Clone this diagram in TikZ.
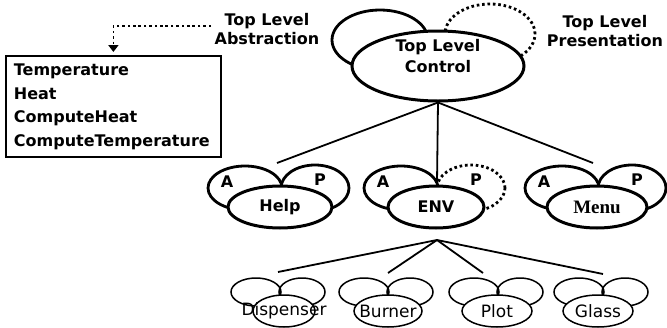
\documentclass[tikz,border=0pt]{standalone}
\usepackage{fontspec}
\setmainfont{DejaVu Sans}
\newfontfamily\menufont{Liberation Serif}
\usetikzlibrary{arrows.meta,shapes.geometric}

\begin{document}
\begin{tikzpicture}[x=1pt,y=-1pt,
  every node/.style={font=\fontsize{16}{19}\selectfont\bfseries},
  lobe/.style={ellipse,draw,line width=2.8pt,inner sep=0pt,minimum width=74pt,minimum height=44pt},
  plobe/.style={lobe,minimum width=68pt,minimum height=46pt,label={[xshift=5pt,yshift=8pt]center:P}},
  alobe/.style={lobe,label={[xshift=-18pt,yshift=6pt]center:A}},
  dots/.style={dash pattern=on 2.6pt off 2.8pt},
  agent/.style={ellipse,draw,fill=white,line width=3pt,inner sep=0pt,minimum width=100pt,minimum height=42pt},
  leaflobe/.style={ellipse,draw,line width=1.5pt,inner sep=0pt,minimum width=50pt,minimum height=28pt},
  leaf/.style={ellipse,draw,fill=white,line width=1.5pt,inner sep=0pt,minimum width=68pt,minimum height=32pt,
    font=\fontsize{17}{19}\selectfont}]
  \useasboundingbox (0,0) rectangle (667,327);

  \node[lobe,minimum width=96pt,minimum height=60pt] (abs) at (380,40) {};
  \node[lobe,dots,minimum width=90pt,minimum height=60pt] (pres) at (490,34) {};
  \node[agent,minimum width=172pt,minimum height=70pt,
    label={[align=center,yshift=10pt,font=\fontsize{16}{21}\selectfont\bfseries]center:Top Level\\Control}] (ctl) at (438,66) {};

  \node[align=center] (absLabel) at (267,29) {Top Level\\Abstraction};
  \node[align=center] (presLabel) at (605,31) {Top Level\\Presentation};
  \node[draw,line width=1.8pt,anchor=north west,align=left,text width=199pt,inner sep=8pt,
    font=\fontsize{16}{23.5}\selectfont\bfseries] (vars) at (5,55)
    {Temperature\\Heat\\ComputeHeat\\ComputeTemperature};
  \draw[line width=1.8pt,dots,-{Triangle[width=10pt,length=7pt]},shorten >=3pt]
    ([yshift=3pt]absLabel.west) -| (vars.north);

  \node[alobe] (helpA) at (245,188) {};
  \node[plobe] (helpP) at (315,188) {};
  \node[agent,minimum width=104pt] (help) at (280,207) {Help};

  \node[alobe] (envA) at (401,188) {};
  \node[plobe,dots] (envP) at (471,188) {};
  \node[agent,minimum width=96pt] (env) at (436,207) {ENV};

  \node[alobe] (menuA) at (562,188) {};
  \node[plobe] (menuP) at (632,188) {};
  \node[agent] (menu) at (597,207) {\menufont\bfseries\fontsize{19}{21}\selectfont Menu};

  \coordinate (helpTop) at (277,163);
  \coordinate (envTop) at (437,183);
  \coordinate (menuTop) at (593,163);
  \path[line width=1.8pt] (ctl.south) edge (helpTop)
                                      edge (envTop)
                                      edge (menuTop);

  \node[leaflobe] (dispL) at (256,292) {};
  \node[leaflobe,minimum width=46pt] (dispR) at (302,292) {};
  \node[leaf,minimum width=62pt] (disp) at (284,311) {\makebox[0pt]{Dispenser}};

  \node[leaflobe] (burnL) at (364,292) {};
  \node[leaflobe,minimum width=46pt] (burnR) at (410,292) {};
  \node[leaf] (burn) at (388,311) {\makebox[0pt]{Burner}};

  \node[leaflobe] (plotL) at (474,292) {};
  \node[leaflobe,minimum width=46pt] (plotR) at (520,292) {};
  \node[leaf,minimum width=70pt] (plot) at (497,311) {\makebox[0pt]{Plot}};

  \node[leaflobe] (glassL) at (579,292) {};
  \node[leaflobe,minimum width=46pt] (glassR) at (625,292) {};
  \node[leaf,minimum width=70pt] (glass) at (598,311) {\makebox[0pt]{Glass}};

  \coordinate (envFork) at (437,240);
  \coordinate (dispTop) at (278,272);
  \coordinate (burnTop) at (388,273);
  \coordinate (plotTop) at (483,273);
  \coordinate (glassTop) at (603,274);
  \path[line width=1.8pt] (envFork) edge (dispTop)
                                    edge (burnTop)
                                    edge (plotTop)
                                    edge (glassTop);
\end{tikzpicture}
\end{document}
